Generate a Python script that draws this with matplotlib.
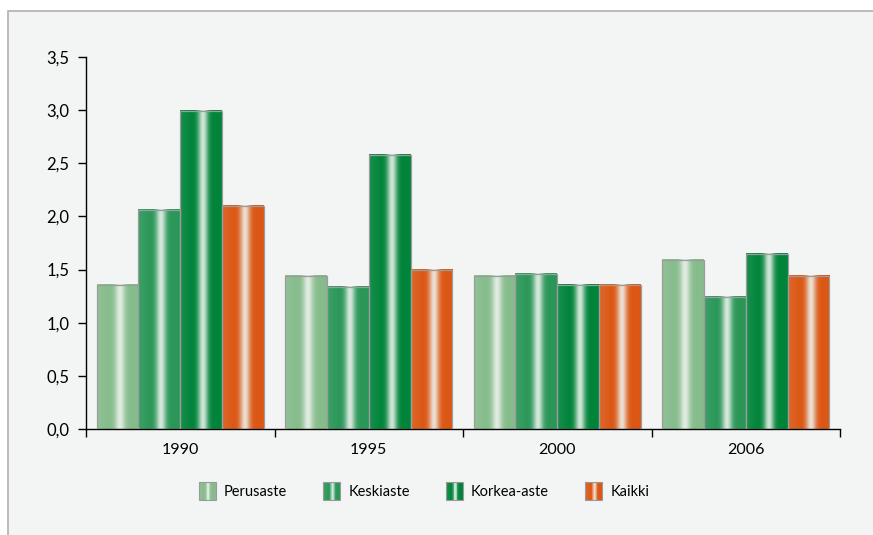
import numpy as np
import matplotlib
matplotlib.use("Agg")
import matplotlib.pyplot as plt
from matplotlib.patches import Rectangle
from matplotlib.legend_handler import HandlerBase
from matplotlib.colors import to_rgb

# ---- data ----
years = ["1990", "1995", "2000", "2006"]
series_names = ["Perusaste", "Keskiaste", "Korkea-aste", "Kaikki"]
perusaste = [1.36, 1.44, 1.44, 1.59]
keskiaste = [2.06, 1.34, 1.46, 1.24]
korkea_aste = [2.99, 2.58, 1.36, 1.65]
kaikki = [2.10, 1.50, 1.36, 1.44]
yticks = [0.0, 0.5, 1.0, 1.5, 2.0, 2.5, 3.0, 3.5]

series_values = [perusaste, keskiaste, korkea_aste, kaikki]
base_colors = ["#86bc8c", "#2a9758", "#00843a", "#dc5714"]

plt.rcParams['font.family'] = ['Lato', 'DejaVu Sans']

fig = plt.figure(figsize=(8.73, 5.35), dpi=100)
fig.patch.set_facecolor("white")

# panel background
panel = Rectangle((8 / 873, -0.05), 1.1, 1 - 11 / 535 + 0.05, transform=fig.transFigure,
                  facecolor="#f3f5f5", edgecolor="#b0b0b0", linewidth=1.2, zorder=-10)
fig.patches.append(panel)

ax = fig.add_axes([86 / 873, 1 - 429.3 / 535, (840 - 86) / 873, (429.3 - 56.7) / 535])
ax.set_facecolor("none")
ax.set_zorder(1)


def gradient_row(color, n=64):
    t = np.linspace(0, 1, n)
    c = np.array(to_rgb(color))
    w = 0.88 * np.exp(-((t - 0.55) / 0.12) ** 2)
    left = 0.10 * np.clip((0.3 - t) / 0.3, 0, 1)
    w = np.maximum(w, left)
    rgb = c[None, :] * (1 - w[:, None]) + np.array([0.93, 0.95, 0.93])[None, :] * w[:, None]
    return rgb[None, :, :]


bar_w = 0.222
offset0 = 0.5 - 2 * bar_w
x_groups = np.arange(len(years))
for i, (vals, col) in enumerate(zip(series_values, base_colors)):
    xs = x_groups + offset0 + i * bar_w + bar_w / 2
    bars = ax.bar(xs, vals, width=bar_w, facecolor="none", edgecolor="#9c9c9c",
                  linewidth=0.9, zorder=3, label=series_names[i])
    img = gradient_row(col)
    for b in bars:
        x0 = b.get_x()
        ax.imshow(img, extent=[x0, x0 + b.get_width(), 0, b.get_height()],
                  aspect="auto", zorder=2, interpolation="bilinear")

ax.set_xlim(0, 4)
ax.set_ylim(0, 3.5)

for s in ["top", "right"]:
    ax.spines[s].set_visible(False)
ax.spines["left"].set_linewidth(1.0)
ax.spines["bottom"].set_linewidth(1.0)

ax.set_yticks(yticks)
ax.set_yticklabels([f"{v:.1f}".replace(".", ",") for v in yticks], fontsize=12)
ax.tick_params(axis="y", direction="out", length=6, width=1, pad=6)

ax.set_xticks([0, 1, 2, 3, 4])
ax.set_xticklabels([])
ax.tick_params(axis="x", which="major", direction="out", length=6, width=1)
ax.set_xticks(x_groups + 0.5, minor=True)
ax.set_xticklabels(years, minor=True, fontsize=11.5)
ax.tick_params(axis="x", which="minor", length=0, pad=10)


class GradientHandler(HandlerBase):
    def __init__(self, color):
        super().__init__()
        self.color = color

    def create_artists(self, legend, orig_handle, xdescent, ydescent, width, height, fontsize, trans):
        arts = []
        n = 24
        img = gradient_row(self.color, n)[0]
        x0, y0 = -xdescent, -ydescent - 2
        h = height + 4
        for k in range(n):
            r = Rectangle((x0 + width * k / n, y0), width / n + 0.3, h, facecolor=img[k],
                          edgecolor="none", transform=trans)
            arts.append(r)
        arts.append(Rectangle((x0, y0), width, h, facecolor="none", edgecolor="#9a9a9a",
                              linewidth=0.8, transform=trans))
        return arts


handles = [Rectangle((0, 0), 1, 1) for _ in series_names]
leg = fig.legend(handles, series_names, loc="center", bbox_to_anchor=(424 / 873, 1 - 492 / 535),
                 ncol=4, frameon=False, fontsize=10.5, handlelength=1.15, handleheight=0.85,
                 handletextpad=0.55, columnspacing=2.5,
                 handler_map={h: GradientHandler(c) for h, c in zip(handles, base_colors)})

fig.savefig("out.png", dpi=100, facecolor=fig.get_facecolor())
